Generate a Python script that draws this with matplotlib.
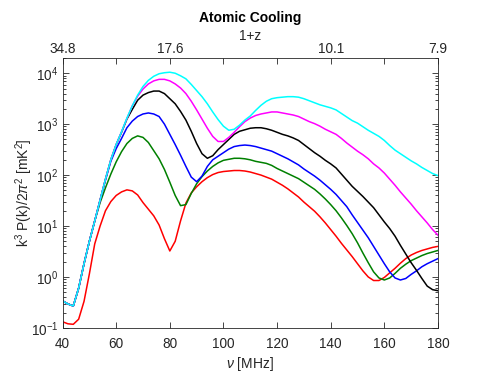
import numpy as np
import matplotlib
matplotlib.use("Agg")
import matplotlib.pyplot as plt

plt.rcParams['font.family'] = ['Liberation Sans', 'DejaVu Sans']
plt.rcParams['mathtext.fontset'] = 'custom'
plt.rcParams['mathtext.rm'] = 'Liberation Sans'
plt.rcParams['mathtext.it'] = 'Liberation Sans:italic'
plt.rcParams['mathtext.bf'] = 'Liberation Sans:bold'

# frequency grid [MHz]
freq = np.arange(40, 181, 2)

# log10 of k^3 P(k)/2pi^2 [mK^2]
red_log = [-0.88, -0.92, -0.93, -0.83, -0.48, 0.06, 0.65, 1.00, 1.30, 1.48,
           1.60, 1.67, 1.71, 1.69, 1.61, 1.46, 1.33, 1.20, 1.02, 0.75,
           0.51, 0.70, 1.10, 1.45, 1.65, 1.77, 1.87, 1.95, 2.01, 2.05,
           2.07, 2.08, 2.09, 2.09, 2.08, 2.06, 2.03, 2.00, 1.96, 1.92,
           1.86, 1.80, 1.73, 1.65, 1.57, 1.47, 1.38, 1.29, 1.18, 1.06,
           0.93, 0.80, 0.66, 0.53, 0.40, 0.26, 0.12, 0.00, -0.07, -0.07,
           -0.01, 0.08, 0.17, 0.27, 0.36, 0.43, 0.48, 0.52, 0.55, 0.58, 0.60]
green_log = [-0.47, -0.53, -0.57, -0.22, 0.26, 0.70, 1.10, 1.46, 1.75, 2.02,
             2.26, 2.46, 2.62, 2.72, 2.77, 2.74, 2.64, 2.48, 2.32, 2.11,
             1.86, 1.60, 1.40, 1.42, 1.64, 1.83, 1.97, 2.08, 2.17, 2.24,
             2.29, 2.31, 2.33, 2.33, 2.32, 2.30, 2.27, 2.25, 2.23, 2.19,
             2.13, 2.08, 2.03, 1.98, 1.93, 1.86, 1.79, 1.72, 1.63, 1.53,
             1.42, 1.30, 1.16, 1.01, 0.85, 0.67, 0.47, 0.28, 0.10, -0.02,
             -0.06, -0.02, 0.07, 0.17, 0.25, 0.32, 0.37, 0.42, 0.46, 0.49, 0.52]
blue_log = [-0.47, -0.53, -0.57, -0.22, 0.26, 0.70, 1.10, 1.51, 1.90, 2.27,
            2.52, 2.72, 2.93, 3.06, 3.15, 3.20, 3.22, 3.20, 3.15, 3.00,
            2.80, 2.60, 2.39, 2.17, 1.96, 1.87, 1.98, 2.17, 2.30, 2.37,
            2.44, 2.51, 2.56, 2.58, 2.59, 2.58, 2.56, 2.53, 2.50, 2.47,
            2.42, 2.37, 2.32, 2.26, 2.20, 2.12, 2.05, 1.98, 1.90, 1.81,
            1.72, 1.62, 1.50, 1.38, 1.22, 1.07, 0.92, 0.77, 0.60, 0.43,
            0.26, 0.10, -0.02, -0.06, -0.03, 0.05, 0.12, 0.20, 0.26, 0.31, 0.36]
black_log = [-0.47, -0.53, -0.57, -0.22, 0.26, 0.70, 1.10, 1.51, 1.92, 2.30,
             2.60, 2.84, 3.10, 3.29, 3.47, 3.57, 3.62, 3.65, 3.65, 3.60,
             3.50, 3.40, 3.25, 3.08, 2.86, 2.62, 2.42, 2.33, 2.38, 2.50,
             2.60, 2.70, 2.80, 2.86, 2.89, 2.92, 2.93, 2.93, 2.91, 2.88,
             2.84, 2.80, 2.77, 2.73, 2.68, 2.60, 2.52, 2.44, 2.37, 2.29,
             2.22, 2.14, 2.02, 1.90, 1.78, 1.68, 1.58, 1.47, 1.36, 1.22,
             1.08, 0.95, 0.80, 0.62, 0.45, 0.28, 0.13, -0.03, -0.18, -0.25, -0.27]
magenta_log = [-0.47, -0.53, -0.57, -0.22, 0.26, 0.70, 1.10, 1.51, 1.92, 2.30,
               2.60, 2.85, 3.11, 3.36, 3.55, 3.69, 3.79, 3.85, 3.88, 3.88,
               3.85, 3.79, 3.71, 3.60, 3.45, 3.28, 3.10, 2.92, 2.76, 2.66,
               2.66, 2.74, 2.84, 2.95, 3.05, 3.12, 3.17, 3.20, 3.22, 3.24,
               3.24, 3.22, 3.20, 3.18, 3.15, 3.10, 3.05, 3.01, 2.96, 2.90,
               2.85, 2.80, 2.72, 2.63, 2.55, 2.47, 2.40, 2.32, 2.22, 2.14,
               2.04, 1.92, 1.80, 1.67, 1.55, 1.43, 1.30, 1.18, 1.06, 0.93, 0.82]
cyan_log = [-0.47, -0.53, -0.57, -0.22, 0.26, 0.70, 1.10, 1.51, 1.92, 2.30,
            2.60, 2.85, 3.12, 3.36, 3.57, 3.74, 3.86, 3.94, 3.99, 4.01,
            4.02, 4.00, 3.95, 3.89, 3.78, 3.66, 3.54, 3.40, 3.24, 3.09,
            2.96, 2.88, 2.90, 2.98, 3.08, 3.16, 3.27, 3.37, 3.45, 3.50,
            3.52, 3.53, 3.54, 3.54, 3.53, 3.50, 3.46, 3.42, 3.38, 3.35,
            3.32, 3.28, 3.21, 3.14, 3.07, 3.02, 2.95, 2.88, 2.82, 2.76,
            2.68, 2.58, 2.49, 2.42, 2.35, 2.28, 2.22, 2.15, 2.09, 2.03, 1.99]

series = [red_log, green_log, blue_log, black_log, magenta_log, cyan_log]
colors = ['#ff0000', '#008000', '#0000ff', '#000000', '#ff00ff', '#00ffff']

x_ticks = [40, 60, 80, 100, 120, 140, 160, 180]
top_tick_labels = ['34.8', '', '17.6', '', '', '10.1', '', '7.9']

fig = plt.figure(figsize=(4.85, 3.76), dpi=100)
ax = fig.add_axes([0.129, 0.128, 0.774, 0.718])

for vals, c in zip(series, colors):
    ax.plot(freq, 10 ** np.array(vals), color=c, lw=1.1)

ax.set_yscale('log')
ax.set_xlim(40, 180)
ax.set_ylim(1e-1, 2e4)
ax.set_xticks(x_ticks)
axcol = '#262626'
for sp in ax.spines.values():
    sp.set_color(axcol)
    sp.set_linewidth(0.6)
ax.tick_params(which='both', direction='in', top=False, right=True,
               colors=axcol, labelsize=9.8, width=0.6)
ax.tick_params(which='major', length=4)
ax.tick_params(which='minor', length=2)
ax.tick_params(axis='x', pad=6.5)
ax.tick_params(axis='y', pad=3)
ax.set_xlabel(r'$\nu$ [MHz]', fontsize=10, color=axcol, labelpad=3)
ax.set_ylabel(r'k$^3$ P(k)/2$\pi^2$ [mK$^2$]', fontsize=10, color=axcol, labelpad=-3)

ax2 = ax.twiny()
ax2.set_xlim(ax.get_xlim())
ax2.set_xticks(x_ticks)
ax2.set_xticklabels(top_tick_labels)
ax2.tick_params(direction='in', length=4, width=0.6, colors=axcol, labelsize=9.8, pad=1.5)
for sp in ax2.spines.values():
    sp.set_visible(False)
ax2.set_xlabel('1+z', fontsize=9.8, color=axcol, labelpad=1.5)
ax2.set_title('Atomic Cooling', fontsize=10, fontweight='bold', pad=5)

fig.savefig('out.png', dpi=100)
